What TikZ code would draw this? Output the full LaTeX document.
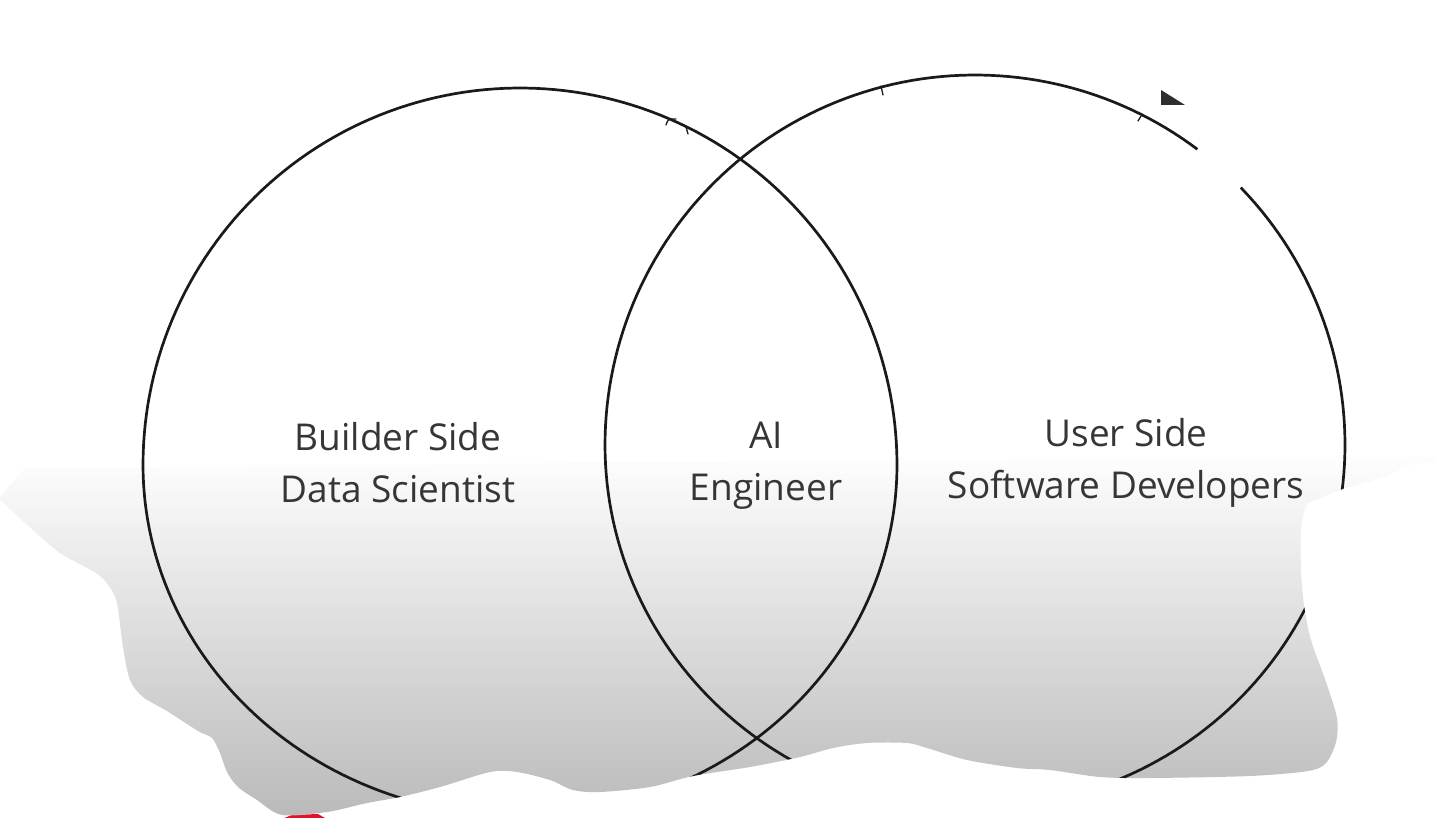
\documentclass[tikz,border=0pt]{standalone}
\usepackage{fontspec}
\setmainfont{Open Sans}
\definecolor{ink}{HTML}{1A1A1A}
\definecolor{txt}{HTML}{363636}
\definecolor{blobtop}{HTML}{FEFEFE}
\definecolor{blobbot}{HTML}{BABABA}
\definecolor{redmark}{HTML}{E3122D}
\definecolor{tri}{HTML}{2E2E2E}
\begin{document}
\begin{tikzpicture}[x=1pt,y=-1pt,
  ring/.style={draw=ink, line width=2.7pt, line join=round},
  lbl/.style={text=txt, font=\fontsize{37}{52}\selectfont, align=center, anchor=base},
  tick/.style={draw=ink, line width=1.3pt, line cap=round}]
\useasboundingbox (0,0) rectangle (1437,818);
\fill[white] (0,0) rectangle (1437,818);
% red sliver
\fill[redmark] (284,818) -- (292,815) -- (318,814) -- (325,818) -- cycle;
% gray blob
\shade[top color=blobtop, bottom color=blobbot]
  (0,497) -- (25,468) -- (1437,455) -- (1437,463)
  -- plot[smooth, tension=0.5] coordinates {(1437,463) (1413,464) (1383,477) (1343,489) (1320,498) (1306,506) (1301,530) (1301,570) (1304,605) (1311,640) (1326,682) (1337,718) (1336,742) (1326,763) (1308,771) (1250,776) (1150,778) (1100,777) (1050,770) (1017,768) (967,760) (927,748) (907,743) (867,743) (833,748) (800,757) (750,767) (693,776) (650,787) (600,792) (573,790) (550,780) (517,772) (490,772) (440,787) (400,797) (367,803) (327,812) (282,815) (257,800) (238,787) (227,772) (220,753) (212,738) (198,731) (167,711) (143,697) (130,680) (123,647) (117,603) (109,586) (96,573) (60,553) (33,530) (0,500)}
  -- cycle;
% circles, clipped to the visible region
\begin{scope}
\clip (0,0) -- (1437,0) -- (1437,463)
  -- plot[smooth, tension=0.5] coordinates {(1437,463) (1413,464) (1383,477) (1343,489) (1320,498) (1306,506) (1301,530) (1301,570) (1304,605) (1311,640) (1326,682) (1337,718) (1336,742) (1326,763) (1308,771) (1250,776) (1150,778) (1100,777) (1050,770) (1017,768) (967,760) (927,748) (907,743) (867,743) (833,748) (800,757) (750,767) (693,776) (650,787) (600,792) (573,790) (550,780) (517,772) (490,772) (440,787) (400,797) (367,803) (327,812) (282,815) (257,800) (238,787) (227,772) (220,753) (212,738) (198,731) (167,711) (143,697) (130,680) (123,647) (117,603) (109,586) (96,573) (60,553) (33,530) (0,500)}
  -- cycle;
\draw[ring] plot[variable=\t, domain=0:180, samples=120] ({520+377*cos(\t)},{465-377*sin(\t)})
  -- plot[variable=\t, domain=180:360, samples=120] ({520+377*cos(\t)},{465-351*sin(\t)}) -- cycle;
\draw[ring] plot[variable=\t, domain=0:180, samples=120] ({975+370*cos(\t)},{445-370*sin(\t)})
  -- plot[variable=\t, domain=180:360, samples=120] ({975+370*cos(\t)},{445-363*sin(\t)}) -- cycle;
\end{scope}
% small gap in right circle, top right
\fill[white] (1204,141) -- (1248,180) -- (1232,196) -- (1190,159) -- cycle;
% hand-drawn ticks
\draw[tick] (666,125) .. controls (668,119) .. (676,119);
\draw[tick] (686,127) -- (688,134);
\draw[tick] (881,86) -- (883,95);
\draw[tick] (1138,121) -- (1141,116);
% dark corner mark
\fill[tri] (1161,90) -- (1161,105) -- (1185,105) -- cycle;
% labels
\node[lbl] (builder) at (398,502) {Builder Side\\Data Scientist};
\node[lbl] (ai) at (766,500) {AI\\Engineer};
\node[lbl] (user) at (1126,498) {User Side\\Software Developers};
\end{tikzpicture}
\end{document}
